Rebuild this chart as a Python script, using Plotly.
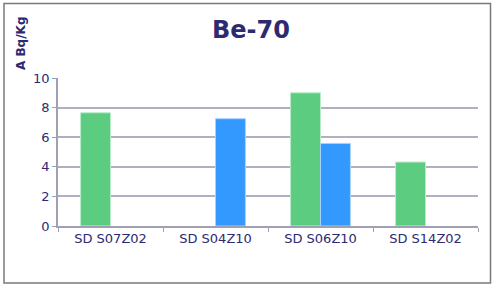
import plotly.graph_objects as go

categories = ["SD S07Z02", "SD S04Z10", "SD S06Z10", "SD S14Z02"]
green_values = [7.65, None, 9.0, 4.32]
blue_values = [None, 7.25, 5.58, None]
y_ticks = [0, 2, 4, 6, 8, 10]

W, H = 492, 289
L, R, T, B = 58, 14, 78, 63
pw, ph = W - L - R, H - T - B

def px_x(x):
    return (x - L) / pw

def px_y(y):
    return (H - B - y) / ph

text_col = "#2e2a72"
fnt = "DejaVu Sans, Verdana, sans-serif"

fig = go.Figure()
fig.add_bar(x=categories, y=green_values, marker=dict(color="#5ccd80", line=dict(color="#b8ecc8", width=1)), name="a")
fig.add_bar(x=categories, y=blue_values, marker=dict(color="#3399ff", line=dict(color="#a8d0ff", width=1)), name="b")

fig.update_layout(
    width=W, height=H,
    margin=dict(l=L, r=R, t=T, b=B, autoexpand=False),
    paper_bgcolor="white", plot_bgcolor="white",
    barmode="group", bargap=0.43, bargroupgap=0,
    showlegend=False,
    font=dict(family=fnt, color=text_col, size=12),
    xaxis=dict(
        showgrid=False, showline=True, linecolor="#a0a0b4", linewidth=1.5,
        ticks="outside", tickson="boundaries", ticklen=4, tickcolor="#a0a0b4",
        tickfont=dict(size=13, color=text_col, family=fnt),
    ),
    yaxis=dict(
        range=[0, 10], tickvals=y_ticks, showgrid=True, gridcolor="#b0b0c0", gridwidth=1.5,
        showline=True, linecolor="#a0a0b4", linewidth=1.5,
        ticks="outside", ticklen=4, tickcolor="#a0a0b4",
        tickfont=dict(size=13, color=text_col, family=fnt), zeroline=False,
    ),
    shapes=[dict(type="rect", xref="paper", yref="paper",
                 x0=px_x(4), x1=px_x(490.5), y0=px_y(283), y1=px_y(3.5),
                 line=dict(color="#7a7a7a", width=1.5), layer="below")],
    annotations=[
        dict(text="<b>Be-70</b>", xref="paper", yref="paper", x=px_x(251), y=px_y(30),
             showarrow=False, font=dict(size=24, color=text_col, family=fnt),
             xanchor="center", yanchor="middle"),
        dict(text="<b>A Bq/Kg</b>", xref="paper", yref="paper", x=px_x(21), y=px_y(44),
             showarrow=False, textangle=-90, font=dict(size=12, color=text_col, family=fnt),
             xanchor="center", yanchor="middle"),
    ],
)

fig.write_html("out.html", config={"displayModeBar": False},
               post_script="document.body.style.margin='0';document.body.style.overflow='hidden';")
